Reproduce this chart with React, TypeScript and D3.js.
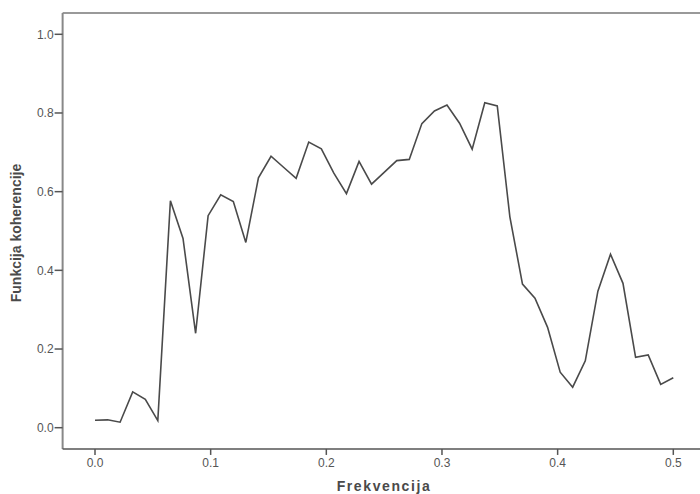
import React from "react";
import * as d3 from "d3";

// frequency (x) and coherence (y)
const frequencies = [
  0, 0.0109, 0.0217, 0.0326, 0.0435, 0.0543, 0.0652, 0.0761, 0.087, 0.0978,
  0.1087, 0.1196, 0.1304, 0.1413, 0.1522, 0.163, 0.1739, 0.1848, 0.1957,
  0.2065, 0.2174, 0.2283, 0.2391, 0.25, 0.2609, 0.2717, 0.2826, 0.2935,
  0.3043, 0.3152, 0.3261, 0.337, 0.3478, 0.3587, 0.3696, 0.3804, 0.3913,
  0.4022, 0.413, 0.4239, 0.4348, 0.4457, 0.4565, 0.4674, 0.4783, 0.4891, 0.5,
];
const coherence = [
  0.019, 0.02, 0.014, 0.091, 0.072, 0.018, 0.577, 0.481, 0.24, 0.539, 0.592,
  0.575, 0.471, 0.635, 0.69, 0.662, 0.634, 0.726, 0.709, 0.647, 0.595, 0.677,
  0.619, 0.649, 0.679, 0.682, 0.773, 0.805, 0.82, 0.774, 0.708, 0.826, 0.818,
  0.536, 0.365, 0.329, 0.255, 0.141, 0.103, 0.17, 0.347, 0.441, 0.367, 0.179,
  0.185, 0.11, 0.127,
];
const xTicks = [0, 0.1, 0.2, 0.3, 0.4, 0.5];
const yTicks = [0, 0.2, 0.4, 0.6, 0.8, 1.0];

const W = 700;
const H = 494;
const font = "'Liberation Sans', Arial, sans-serif";

export default function App() {
  const x = d3.scaleLinear().domain([0, 0.5]).range([95, 673.3]);
  const y = d3.scaleLinear().domain([0, 1]).range([427.7, 34.3]);

  // frame edges
  const left = x(-0.028);
  const top = y(1.054);
  const bottom = y(-0.054);

  const points = frequencies.map((f, i) => [f, coherence[i]] as [number, number]);
  const line = d3
    .line<[number, number]>()
    .x((d) => x(d[0]))
    .y((d) => y(d[1]));

  return (
    <svg
      width={W}
      height={H}
      style={{ position: "absolute", left: 0, top: 0, background: "#fff" }}
    >
      {/* frame: top and left borders */}
      <line x1={left} x2={W} y1={top} y2={top} stroke="#999" strokeWidth={2} />
      <line x1={left} x2={left} y1={top} y2={bottom} stroke="#888" strokeWidth={2} />
      <line x1={left} x2={W} y1={bottom} y2={bottom} stroke="#555" strokeWidth={1.5} />

      {/* y axis */}
      {yTicks.map((t) => (
        <g key={"y" + t}>
          <line x1={left - 8} x2={left} y1={y(t)} y2={y(t)} stroke="#555" strokeWidth={1.5} />
          <text
            x={left - 9}
            y={y(t)}
            dy="0.35em"
            textAnchor="end"
            fontFamily={font}
            fontSize={12}
            fill="#555"
          >
            {d3.format(".1f")(t)}
          </text>
        </g>
      ))}

      {/* x axis */}
      {xTicks.map((t) => (
        <g key={"x" + t}>
          <line x1={x(t)} x2={x(t)} y1={bottom} y2={bottom + 6} stroke="#555" strokeWidth={1.5} />
          <text
            x={x(t)}
            y={467}
            textAnchor="middle"
            fontFamily={font}
            fontSize={12}
            fill="#555"
          >
            {d3.format(".1f")(t)}
          </text>
        </g>
      ))}

      {/* the series */}
      <path
        d={line(points) ?? ""}
        fill="none"
        stroke="#4a4a4a"
        strokeWidth={1.6}
        strokeLinejoin="miter"
      />

      {/* axis titles */}
      <text
        x={384}
        y={491}
        textAnchor="middle"
        fontFamily={font}
        fontSize={14}
        fontWeight="bold"
        letterSpacing={1.6}
        fill="#4a4a4a"
      >
        Frekvencija
      </text>
      <text
        transform={`translate(21, 233) rotate(-90)`}
        textAnchor="middle"
        fontFamily={font}
        fontSize={14}
        fontWeight="bold"
        fill="#4a4a4a"
      >
        Funkcija koherencije
      </text>
    </svg>
  );
}
